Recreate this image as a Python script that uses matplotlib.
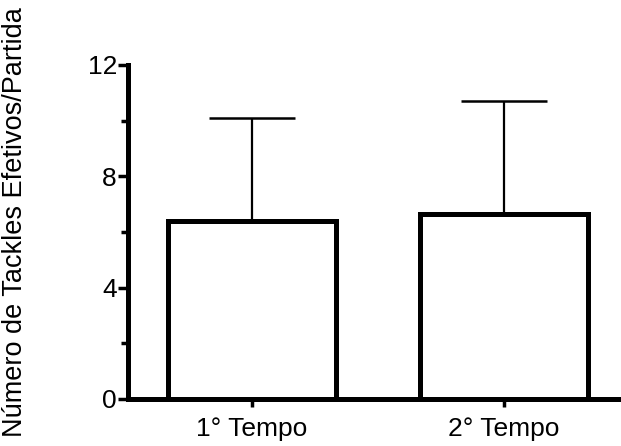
import matplotlib
matplotlib.use("Agg")
import matplotlib.pyplot as plt

# data
categories = ["1° Tempo", "2° Tempo"]
means = [6.4, 6.65]
sd_upper = [3.7, 4.05]
y_ticks = [0, 4, 8, 12]
y_minor = [2, 6, 10]

plt.rcParams["font.family"] = ["Liberation Sans", "DejaVu Sans"]

fig = plt.figure(figsize=(6.21, 4.46), dpi=100)
ax = fig.add_axes([128 / 621, 47 / 446, 1 - 128 / 621, (399 - 65) / 446])

x = list(range(len(categories)))
ax.bar(x, means, width=0.667, color="white", edgecolor="black", linewidth=3.6, zorder=2)
ax.errorbar(x, means, yerr=[[0] * len(x), sd_upper], fmt="none", ecolor="black",
            elinewidth=1.6, capsize=31, capthick=1.8, zorder=1)

ax.set_xlim(-0.492, 1.464)
ax.set_ylim(0, 12)
ax.set_xticks(x)
ax.set_xticklabels(categories, fontsize=19)
ax.set_yticks(y_ticks)
ax.set_yticks(y_minor, minor=True)
ax.tick_params(axis="y", which="major", length=7, width=2.5, labelsize=19, pad=1)
ax.tick_params(axis="y", which="minor", length=5, width=2.5)
ax.tick_params(axis="x", length=6, width=2.5, pad=7)

for sp in ["top", "right"]:
    ax.spines[sp].set_visible(False)
for sp in ["left", "bottom"]:
    ax.spines[sp].set_linewidth(3.6)

fig.text(15 / 621, 0.502, "Número de Tackles Efetivos/Partida", rotation=90,
         ha="center", va="center", fontsize=19.5)

fig.savefig("out.png", dpi=100)
